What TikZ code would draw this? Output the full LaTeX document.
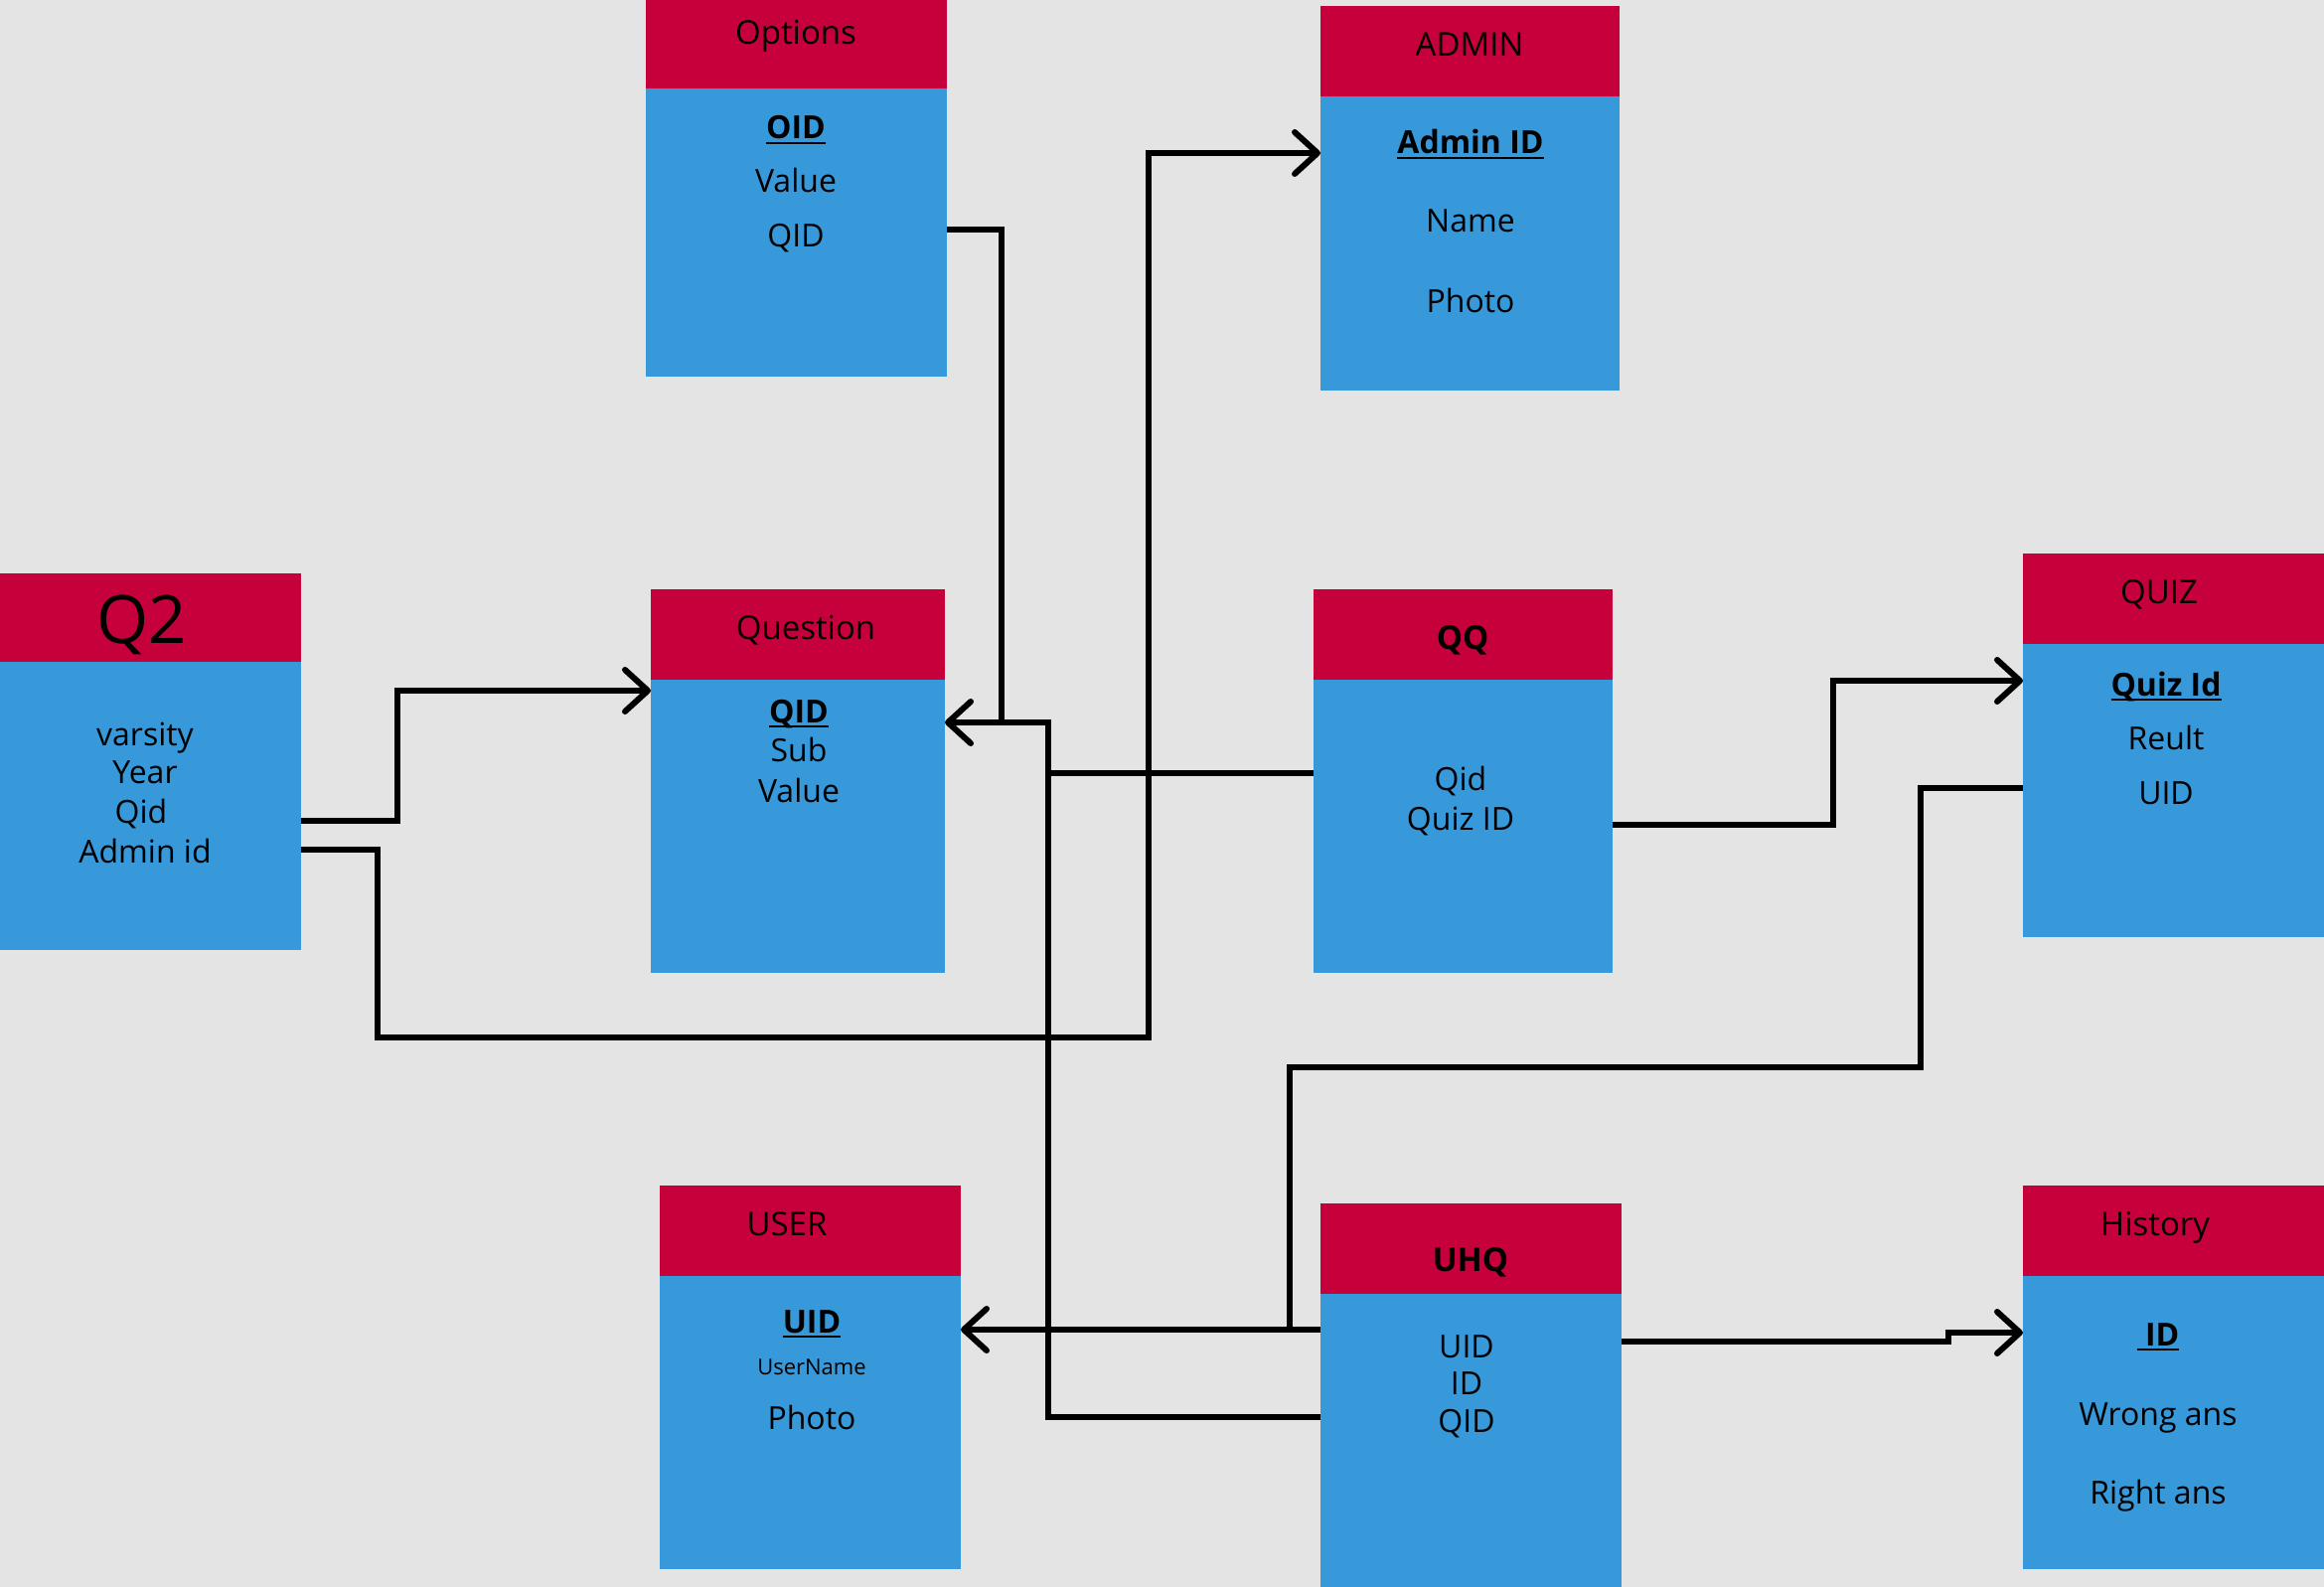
\documentclass[tikz,border=0pt]{standalone}
\usepackage{fontspec}
\setmainfont{Open Sans}
\usetikzlibrary{arrows.meta}
\definecolor{bgc}{HTML}{E4E4E4}
\definecolor{hdrc}{HTML}{C6003A}
\definecolor{bdyc}{HTML}{3798DA}
\newcommand{\keyul}[1]{\setbox0\hbox{\textbf{#1}}\rlap{\rule[-5pt]{\wd0}{2pt}}\box0}
\begin{document}
\begin{tikzpicture}[x=1pt,y=-1pt,
  hbox/.style={fill=hdrc, draw=none, anchor=north west, inner sep=0pt, outer sep=0pt},
  bbox/.style={fill=bdyc, draw=none, anchor=north west, inner sep=0pt, outer sep=0pt},
  txt/.style={anchor=base, inner sep=0pt, font=\fontsize{32}{38}\selectfont},
  htxt/.style={anchor=base, inner sep=0pt, font=\fontsize{33}{40}\selectfont},
  conn/.style={line width=6pt, black},
  arr/.style={conn, -{Straight Barb[length=23pt,width=42pt,line cap=round,line join=round]}}]
\useasboundingbox (0,0) rectangle (2339,1597);
\fill[bgc] (0,0) rectangle (2339,1597);

% Options
\node[hbox, minimum width=303pt, minimum height=89pt] (optH) at (650,0) {};
\node[bbox, minimum width=303pt, minimum height=290pt] (optB) at (650,89) {};
\node[htxt] (optT) at (801,45) {Options};
\node[txt] (optA) at (801,140) {\keyul{OID}};
\node[txt] (optV) at (801,194) {Value};
\node[txt] (optQ) at (801,249) {QID};

% Q2
\node[hbox, minimum width=303pt, minimum height=89pt] (q2H) at (0,577) {};
\node[bbox, minimum width=303pt, minimum height=290pt] (q2B) at (0,666) {};
\node[anchor=base, inner sep=0pt, font=\fontsize{67}{80}\selectfont] (q2T) at (143,647) {Q2};
\node[txt] (q2a) at (146,750) {varsity};
\node[txt] (q2b) at (146,788) {Year};
\node[txt] (q2c) at (142,828) {Qid};
\node[txt] (q2d) at (146,868) {Admin id};

% Question
\node[hbox, minimum width=296pt, minimum height=91pt] (qH) at (655,593) {};
\node[bbox, minimum width=296pt, minimum height=295pt] (qB) at (655,684) {};
\node[htxt] (qT) at (811,643) {Question};
\node[txt] (qa) at (804,727) {\keyul{QID}};
\node[txt] (qb) at (804,766) {Sub};
\node[txt] (qc) at (804,807) {Value};

% ADMIN
\node[hbox, minimum width=301pt, minimum height=91pt] (admH) at (1329,6) {};
\node[bbox, minimum width=301pt, minimum height=296pt] (admB) at (1329,97) {};
\node[htxt] (admT) at (1479,57) {ADMIN};
\node[txt] (adma) at (1480,155) {\keyul{Admin ID}};
\node[txt] (admb) at (1480,234) {Name};
\node[txt] (admc) at (1480,314) {Photo};

% QQ
\node[hbox, minimum width=301pt, minimum height=91pt] (qqH) at (1322,593) {};
\node[bbox, minimum width=301pt, minimum height=295pt] (qqB) at (1322,684) {};
\node[htxt] (qqT) at (1472,653) {\bfseries QQ};
\node[txt] (qqa) at (1470,795) {Qid};
\node[txt] (qqb) at (1470,835) {Quiz ID};

% USER
\node[hbox, minimum width=303pt, minimum height=91pt] (userH) at (664,1193) {};
\node[bbox, minimum width=303pt, minimum height=295pt] (userB) at (664,1284) {};
\node[htxt] (userT) at (792,1243) {USER};
\node[txt] (usera) at (817,1341) {\keyul{UID}};
\node[anchor=base, inner sep=0pt, font=\fontsize{22}{26}\selectfont] (userb) at (817,1383) {UserName};
\node[txt] (userc) at (817,1438) {Photo};

% UHQ
\node[hbox, minimum width=303pt, minimum height=91pt] (uhqH) at (1329,1211) {};
\node[bbox, minimum width=303pt, minimum height=295pt] (uhqB) at (1329,1302) {};
\node[htxt] (uhqT) at (1480,1279) {\bfseries UHQ};
\node[txt] (uhqa) at (1476,1366) {UID};
\node[txt] (uhqb) at (1476,1403) {ID};
\node[txt] (uhqc) at (1476,1441) {QID};

% QUIZ
\node[hbox, minimum width=303pt, minimum height=91pt] (quizH) at (2036,557) {};
\node[bbox, minimum width=303pt, minimum height=295pt] (quizB) at (2036,648) {};
\node[htxt] (quizT) at (2173,607) {QUIZ};
\node[txt] (quiza) at (2180,700) {\keyul{Quiz Id}};
\node[txt] (quizb) at (2180,754) {Reult};
\node[txt] (quizc) at (2180,809) {UID};

% History
\node[hbox, minimum width=303pt, minimum height=91pt] (histH) at (2036,1193) {};
\node[bbox, minimum width=303pt, minimum height=295pt] (histB) at (2036,1284) {};
\node[htxt] (histT) at (2169,1243) {History};
\node[txt] (hista) at (2172,1354) {\keyul{\ ID}};
\node[txt] (histb) at (2172,1434) {Wrong ans};
\node[txt] (histc) at (2172,1513) {Right ans};

% connectors
\coordinate (jOpt) at (1008,727);
\coordinate (jBus) at (1055,727);
\coordinate (jUser) at (1298,1338);
\draw[conn] (optB.east |- 0,231) -| (jOpt);
\draw[arr] (uhqB.west |- 0,1426) -| (jBus) -- (qB.east |- jBus);
\draw[conn] (qqB.west |- 0,778) -- (jBus |- 0,778);
\draw[arr] (q2B.east |- 0,826) -| (400,695) -- (qB.west |- 0,695);
\draw[arr] (q2B.east |- 0,855) -| (380,1044) -| (1156,154) -- (admB.west |- 0,154);
\draw[arr] (qqB.east |- 0,830) -| (1845,685) -- (quizB.west |- 0,685);
\draw[conn] (quizB.west |- 0,793) -| (1933,1074) -| (jUser);
\draw[arr] (uhqB.west |- jUser) -- (userB.east |- jUser);
\draw[arr] (uhqB.east |- 0,1350) -- (1961,1350) -- (1961,1341) -- (histB.west |- 0,1341);
\end{tikzpicture}
\end{document}
